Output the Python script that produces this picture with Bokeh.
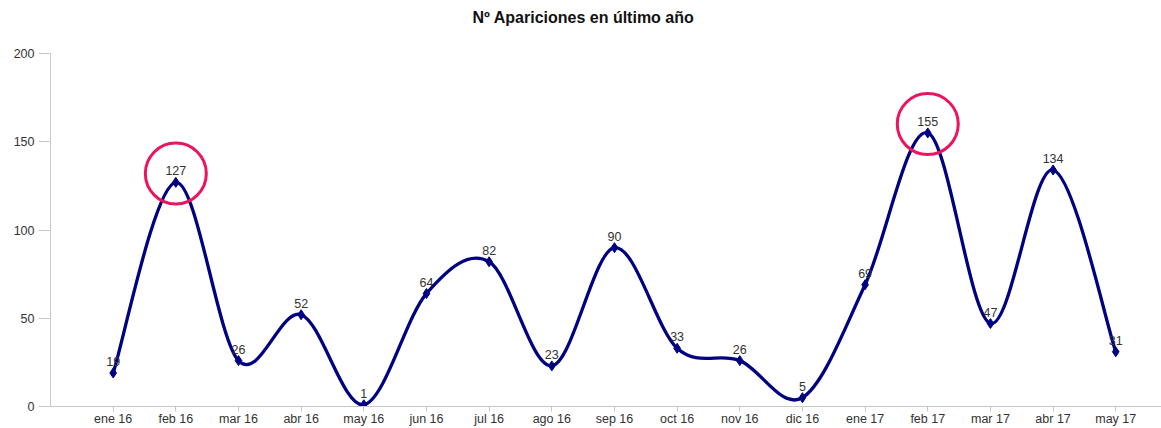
from bokeh.plotting import figure
from bokeh.models import Range1d, FixedTicker, Title, ColumnDataSource
from bokeh.embed import file_html
from bokeh.resources import INLINE
from bokeh.core.properties import value

months = ["ene 16", "feb 16", "mar 16", "abr 16", "may 16", "jun 16", "jul 16",
          "ago 16", "sep 16", "oct 16", "nov 16", "dic 16", "ene 17", "feb 17",
          "mar 17", "abr 17", "may 17"]
apariciones = [19, 127, 26, 52, 1, 64, 82, 23, 90, 33, 26, 5, 69, 155, 47, 134, 31]
highlight = ["feb 16", "feb 17"]
y_ticks = [0, 50, 100, 150, 200]

FONT = "Liberation Sans"
xs = list(range(len(months)))

# Smooth (Catmull-Rom style) bezier segments built from the data
seg = dict(x0=[], y0=[], x1=[], y1=[], cx0=[], cy0=[], cx1=[], cy1=[])
n = len(apariciones)
for i in range(n - 1):
    p0 = (xs[i - 1], apariciones[i - 1]) if i > 0 else (xs[i], apariciones[i])
    p1 = (xs[i], apariciones[i])
    p2 = (xs[i + 1], apariciones[i + 1])
    p3 = (xs[i + 2], apariciones[i + 2]) if i + 2 < n else p2
    seg["x0"].append(p1[0]); seg["y0"].append(p1[1])
    seg["x1"].append(p2[0]); seg["y1"].append(p2[1])
    seg["cx0"].append(p1[0] + (p2[0] - p0[0]) / 6)
    seg["cy0"].append(p1[1] + (p2[1] - p0[1]) / 6)
    seg["cx1"].append(p2[0] - (p3[0] - p1[0]) / 6)
    seg["cy1"].append(p2[1] - (p3[1] - p1[1]) / 6)

p = figure(width=1161, height=428, output_backend="svg", toolbar_location=None,
           x_range=Range1d(-1.0, 16.73), y_range=Range1d(0, 200),
           min_border_left=50, min_border_right=0, min_border_top=53,
           min_border_bottom=21)
p.title = Title(text="Nº Apariciones en último año\n", align="left",
                offset=422, text_line_height=1.3,
                text_font=FONT, text_font_size="16px", text_font_style="bold",
                text_color="#111111")
p.outline_line_color = None
p.xgrid.visible = False
p.ygrid.visible = False
p.background_fill_color = "white"
p.border_fill_color = "white"

AX = "#c8c8c8"
p.yaxis.ticker = FixedTicker(ticks=y_ticks)
p.yaxis.minor_tick_line_color = None
p.yaxis.major_tick_in = 0
p.yaxis.major_tick_out = 12
p.yaxis.major_label_standoff = 4
p.xaxis.ticker = FixedTicker(ticks=xs)
p.xaxis.major_label_overrides = {i: m for i, m in enumerate(months)}
p.xaxis.minor_tick_line_color = None
p.xaxis.major_tick_in = 0
p.xaxis.major_tick_out = 5
p.xaxis.major_label_standoff = 0
for ax in (p.xaxis, p.yaxis):
    ax.axis_line_color = AX
    ax.major_tick_line_color = AX
    ax.major_label_text_font = FONT
    ax.major_label_text_font_size = "12.5px"
    ax.major_label_text_color = "#333333"

p.bezier(source=ColumnDataSource(seg), x0="x0", y0="y0", x1="x1", y1="y1",
         cx0="cx0", cy0="cy0", cx1="cx1", cy1="cy1",
         line_color="#000080", line_width=3.3)
p.scatter(xs, apariciones, marker="diamond", size=10, fill_color="#000080",
          line_color="#000080")
p.text(xs, apariciones, text=[str(v) for v in apariciones], text_align="center",
       text_baseline="bottom", y_offset=-7, text_font=value(FONT),
       text_font_size="12.5px", text_color="#333333")

hx = [months.index(m) for m in highlight]
hy = [apariciones[i] + 5 for i in hx]
p.scatter(hx, hy, marker="circle", size=61, fill_color=None,
          line_color="#EC1460", line_width=3)

open("out.html", "w").write(file_html(p, INLINE))
